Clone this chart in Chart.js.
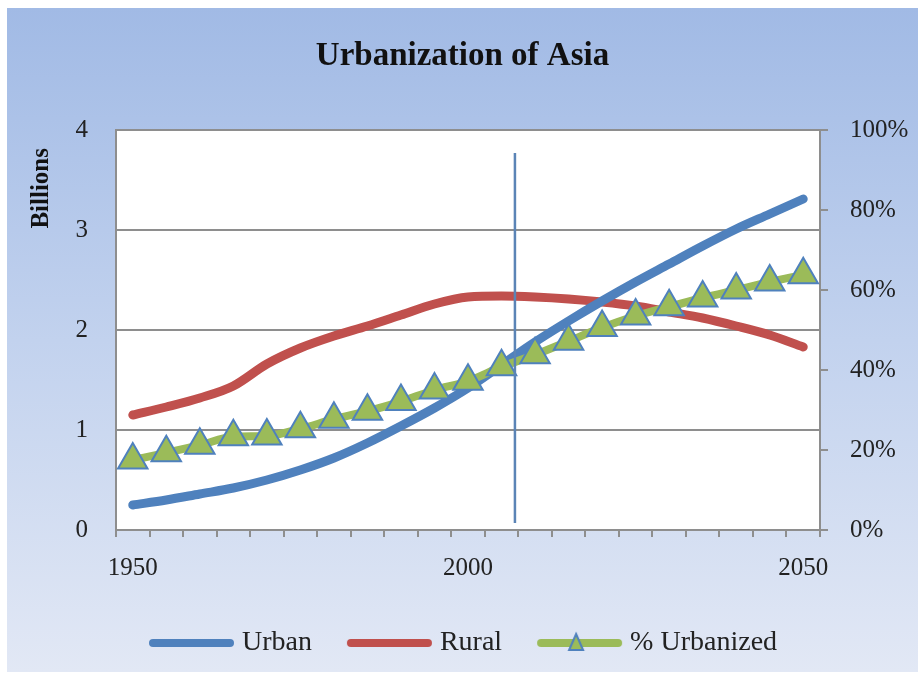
<!DOCTYPE html>
<html>
<head>
<meta charset="utf-8">
<title>Urbanization of Asia</title>
<script src="https://cdn.jsdelivr.net/npm/chart.js@4/dist/chart.umd.min.js"></script>
<style>
  body { margin: 0; background: #fff; }
  #wrap {
    position: absolute; left: 7px; top: 8px; width: 911px; height: 664px;
    background: linear-gradient(to bottom, #a1bae5 0%, #c2d2ee 50%, #e2e8f5 100%);
  }
</style>
</head>
<body>
<div id="wrap"><canvas id="chart" width="911" height="664"></canvas></div>
<script>
// data
const years = [1950, 1955, 1960, 1965, 1970, 1975, 1980, 1985, 1990, 1995, 2000,
               2005, 2010, 2015, 2020, 2025, 2030, 2035, 2040, 2045, 2050];
// billions
const urban = [0.25, 0.30, 0.36, 0.42, 0.50, 0.60, 0.72, 0.87, 1.04, 1.22, 1.42,
               1.65, 1.88, 2.09, 2.29, 2.48, 2.66, 2.84, 3.01, 3.16, 3.31];
const rural = [1.15, 1.23, 1.32, 1.44, 1.66, 1.82, 1.94, 2.04, 2.15, 2.26, 2.33,
               2.34, 2.33, 2.31, 2.28, 2.24, 2.18, 2.12, 2.04, 1.95, 1.83];
// percent
const pctUrban = [17.5, 19.3, 21.2, 23.3, 23.5, 25.3, 27.7, 29.7, 32.1, 35.0, 37.2,
                  40.8, 43.8, 47.2, 50.6, 53.5, 55.8, 58.0, 60.0, 62.0, 63.8];
const labeledYears = [1950, 2000, 2050];
const leftTicks = [0, 1, 2, 3, 4];
const rightTicks = [0, 20, 40, 60, 80, 100];

// the vertical "today" line
const markerYear = 2007;
const markerTop = 3.77;
const markerBottom = 0.07;

const blue = "#4f81bd";
const red = "#c0504d";
const green = "#9bbb59";
const gridGray = "#8e8e8e";
const textColor = "#222";

Chart.defaults.font.family = "'Liberation Serif', 'Times New Roman', serif";

// legend sample: line (and triangle), drawn a bit right of the box centre
function makeIcon(color, withMarker) {
  const c = document.createElement("canvas");
  c.width = 100;
  c.height = 24;
  const g = c.getContext("2d");
  g.strokeStyle = color;
  g.lineWidth = 8;
  g.lineCap = "round";
  g.beginPath();
  g.moveTo(15, 12);
  g.lineTo(92, 12);
  g.stroke();
  if (withMarker) {
    const cx = 50;
    g.beginPath();
    g.moveTo(cx, 3);
    g.lineTo(cx + 7, 19);
    g.lineTo(cx - 7, 19);
    g.closePath();
    g.fillStyle = green;
    g.fill();
    g.lineWidth = 2;
    g.lineJoin = "miter";
    g.strokeStyle = blue;
    g.stroke();
  }
  return c;
}
const legendIcons = [makeIcon(blue, false), makeIcon(red, false), makeIcon(green, true)];

const plotBackground = {
  id: "plotBackground",
  beforeDraw(chart) {
    const a = chart.chartArea;
    const ctx = chart.ctx;
    ctx.save();
    ctx.fillStyle = "#ffffff";
    ctx.fillRect(a.left, a.top, a.right - a.left, a.bottom - a.top);
    ctx.restore();
  }
};

const markerLine = {
  id: "markerLine",
  afterDatasetsDraw(chart) {
    const xs = chart.scales.x;
    const ys = chart.scales.y;
    const idx = (markerYear - years[0]) / (years[1] - years[0]);
    const px = xs.getPixelForValue(idx);
    const ctx = chart.ctx;
    ctx.save();
    ctx.strokeStyle = "#5b84b6";
    ctx.lineWidth = 2.5;
    ctx.beginPath();
    ctx.moveTo(px, ys.getPixelForValue(markerTop));
    ctx.lineTo(px, ys.getPixelForValue(markerBottom));
    ctx.stroke();
    ctx.restore();
  }
};

// "Billions" sits near the top of the left axis, a little below the plot top
const leftAxisTitle = {
  id: "leftAxisTitle",
  afterDraw(chart) {
    const ctx = chart.ctx;
    ctx.save();
    ctx.translate(35, chart.chartArea.top + 18);
    ctx.rotate(-Math.PI / 2);
    ctx.font = "bold 25px 'Liberation Serif', serif";
    ctx.fillStyle = "#111";
    ctx.textAlign = "right";
    ctx.textBaseline = "middle";
    ctx.fillText("Billions", 0, 0);
    ctx.restore();
  }
};

const ctx = document.getElementById("chart").getContext("2d");
new Chart(ctx, {
  type: "line",
  data: {
    labels: years,
    datasets: [
      {
        label: "Urban",
        data: urban,
        yAxisID: "y",
        borderColor: blue,
        backgroundColor: blue,
        borderWidth: 9,
        pointRadius: 0,
        cubicInterpolationMode: "monotone",
        borderCapStyle: "round",
        borderJoinStyle: "round",
        order: 1
      },
      {
        label: "Rural",
        data: rural,
        yAxisID: "y",
        borderColor: red,
        backgroundColor: red,
        borderWidth: 9,
        pointRadius: 0,
        cubicInterpolationMode: "monotone",
        borderCapStyle: "round",
        borderJoinStyle: "round",
        order: 2
      },
      {
        label: "% Urbanized",
        data: pctUrban,
        yAxisID: "y1",
        borderColor: green,
        backgroundColor: green,
        borderWidth: 8,
        cubicInterpolationMode: "monotone",
        borderCapStyle: "round",
        pointStyle: "triangle",
        pointRadius: 17,
        pointBackgroundColor: green,
        pointBorderColor: blue,
        pointBorderWidth: 2,
        order: 0
      }
    ]
  },
  options: {
    responsive: false,
    animation: false,
    devicePixelRatio: 1,
    layout: { padding: { left: 0, right: 0, top: 0, bottom: 5 } },
    plugins: {
      title: {
        display: true,
        text: "Urbanization of Asia",
        color: "#111",
        font: { size: 33, weight: "bold" },
        padding: { top: 29, bottom: 53.4 }
      },
      legend: {
        position: "bottom",
        labels: {
          usePointStyle: true,
          pointStyleWidth: 80,
          boxHeight: 20,
          padding: 34,
          color: textColor,
          font: { size: 28 },
          generateLabels: chart => chart.data.datasets.map((ds, i) => ({
            text: ds.label,
            pointStyle: legendIcons[i],
            fillStyle: "transparent",
            strokeStyle: "transparent",
            lineWidth: 0,
            hidden: false,
            datasetIndex: i,
            fontColor: textColor
          }))
        }
      },
      tooltip: { enabled: false }
    },
    scales: {
      x: {
        type: "category",
        offset: true,
        grid: { offset: true, drawOnChartArea: false, tickLength: 7, color: gridGray, lineWidth: 2 },
        border: { color: gridGray, width: 2 },
        ticks: {
          autoSkip: false,
          maxRotation: 0,
          padding: 16,
          color: textColor,
          font: { size: 25 },
          callback: (v, i) => labeledYears.includes(years[i]) ? String(years[i]) : ""
        },
        afterFit: s => { s.height = 65; }
      },
      y: {
        position: "left",
        min: leftTicks[0],
        max: leftTicks[leftTicks.length - 1],
        ticks: { stepSize: 1, padding: 28, color: textColor, font: { size: 25 } },
        grid: { color: gridGray, lineWidth: 2, drawTicks: false },
        border: { color: gridGray, width: 2 },
        afterFit: s => { s.width = 109; }
      },
      y1: {
        position: "right",
        min: rightTicks[0],
        max: rightTicks[rightTicks.length - 1],
        ticks: { stepSize: 20, padding: 22, color: textColor, font: { size: 25 }, callback: v => v + "%" },
        grid: { drawOnChartArea: false, tickLength: 8, color: gridGray, lineWidth: 2 },
        border: { color: gridGray, width: 2 },
        afterFit: s => { s.width = 98; }
      }
    }
  },
  plugins: [plotBackground, markerLine, leftAxisTitle]
});
</script>
</body>
</html>
